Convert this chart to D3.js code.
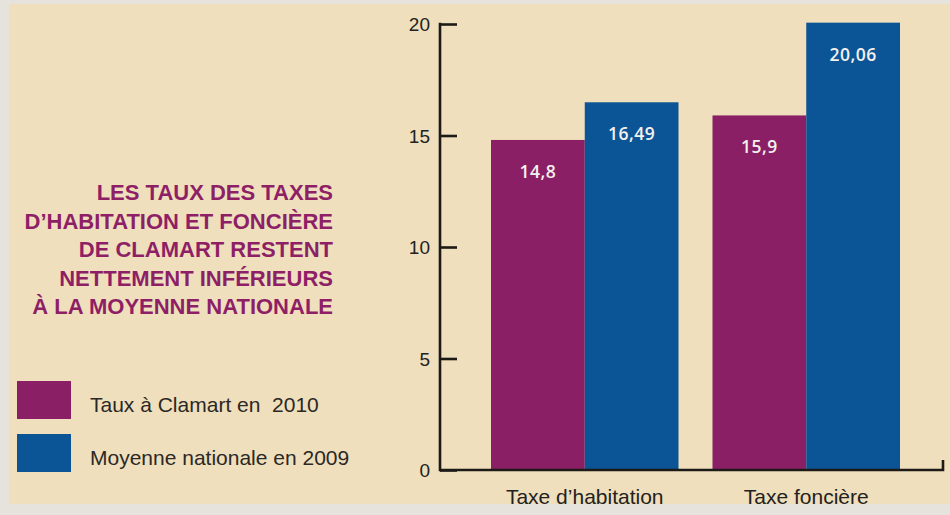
<!DOCTYPE html>
<html><head><meta charset="utf-8">
<script src="https://cdn.jsdelivr.net/npm/d3@7"></script>
<style>
html,body{margin:0;padding:0;background:#e4e2dc;}
svg{display:block;}
</style></head>
<body>
<svg id="chart" width="950" height="515"></svg>
<script>
const categories = ["Taxe d\u2019habitation", "Taxe foncière"];
const seriesNames = ["Taux à Clamart en  2010", "Moyenne nationale en 2009"];
const clamart2010 = [14.8, 15.9];
const nationale2009 = [16.49, 20.06];
const valueLabels = [["14,8", "15,9"], ["16,49", "20,06"]];
const yTicks = [0, 5, 10, 15, 20];
const titleLines = ["LES TAUX DES TAXES", "D\u2019HABITATION ET FONCIÈRE", "DE CLAMART RESTENT", "NETTEMENT INFÉRIEURS", "À LA MOYENNE NATIONALE"];

const colors = ["#8a1f66", "#0b5596"];
const svg = d3.select("#chart");

// background
svg.append("rect").attr("x", 0).attr("y", 0).attr("width", 950).attr("height", 515).attr("fill", "#e6e3dc");
svg.append("rect").attr("x", 9).attr("y", 4).attr("width", 941).attr("height", 500).attr("fill", "#efdfbc");

const x0 = d3.scaleBand().domain(categories).range([491, 900]).paddingInner(0.1535).paddingOuter(0);
const x1 = d3.scaleBand().domain([0, 1]).range([0, x0.bandwidth()]);
const y = d3.scaleLinear().domain([0, 20]).range([470, 24]);

const series = [clamart2010, nationale2009];

const g = svg.append("g");
series.forEach((vals, si) => {
  g.selectAll(null).data(vals).enter().append("rect")
    .attr("x", (d, i) => x0(categories[i]) + x1(si))
    .attr("y", d => y(d))
    .attr("width", x1.bandwidth())
    .attr("height", d => y(0) - y(d))
    .attr("fill", colors[si]);
  g.selectAll(null).data(vals).enter().append("text")
    .attr("x", (d, i) => x0(categories[i]) + x1(si) + x1.bandwidth() / 2)
    .attr("y", d => y(d) + 38)
    .attr("text-anchor", "middle")
    .attr("fill", "#f4f0ee")
    .attr("font-family", "'Open Sans', sans-serif")
    .attr("font-weight", 600)
    .attr("font-size", 17.5)
    .attr("letter-spacing", 0.5)
    .text((d, i) => valueLabels[si][i]);
});

// y axis
const yAxis = d3.axisRight(y).tickValues(yTicks).tickSize(17).tickFormat("");
const ya = svg.append("g").attr("transform", "translate(440,0)").call(yAxis);
ya.select(".domain").remove();
ya.selectAll(".tick line").attr("stroke", "#1c1a17").attr("stroke-width", 2.6);
svg.append("line").attr("x1", 440).attr("x2", 440).attr("y1", y(20) - 1.3).attr("y2", y(0) + 1.3)
  .attr("stroke", "#1c1a17").attr("stroke-width", 2.6);
svg.selectAll(null).data(yTicks).enter().append("text")
  .attr("x", 430).attr("y", d => y(d) + 7)
  .attr("text-anchor", "end")
  .attr("fill", "#222")
  .attr("font-family", "'Liberation Sans', sans-serif")
  .attr("font-size", 19)
  .text(d => d);

// x axis
svg.append("path")
  .attr("d", `M440,${y(0)} H943 V${y(0) - 10}`)
  .attr("fill", "none").attr("stroke", "#1c1a17").attr("stroke-width", 2.6);
svg.selectAll(null).data(categories).enter().append("text")
  .attr("x", d => x0(d) + x0.bandwidth() / 2)
  .attr("y", 504)
  .attr("text-anchor", "middle")
  .attr("fill", "#222")
  .attr("font-family", "'Liberation Sans', sans-serif")
  .attr("font-size", 21)
  .text(d => d);

// title
svg.selectAll(null).data(titleLines).enter().append("text")
  .attr("x", 333).attr("y", (d, i) => 200 + i * 28.6)
  .attr("text-anchor", "end")
  .attr("fill", "#8e1f66")
  .attr("font-family", "'Liberation Sans', sans-serif")
  .attr("font-weight", "bold")
  .attr("font-size", 22)
  .text(d => d);

// legend
const leg = svg.selectAll(null).data(seriesNames).enter().append("g")
  .attr("transform", (d, i) => `translate(17,${381 + i * 53})`);
leg.append("rect").attr("width", 54).attr("height", 38).attr("fill", (d, i) => colors[i]);
leg.append("text").attr("x", 73).attr("y", 31)
  .attr("fill", "#2b2826")
  .attr("font-family", "'Liberation Sans', sans-serif")
  .attr("font-size", 21)
  .attr("xml:space", "preserve")
  .style("white-space", "pre")
  .text(d => d);
</script>
</body></html>
